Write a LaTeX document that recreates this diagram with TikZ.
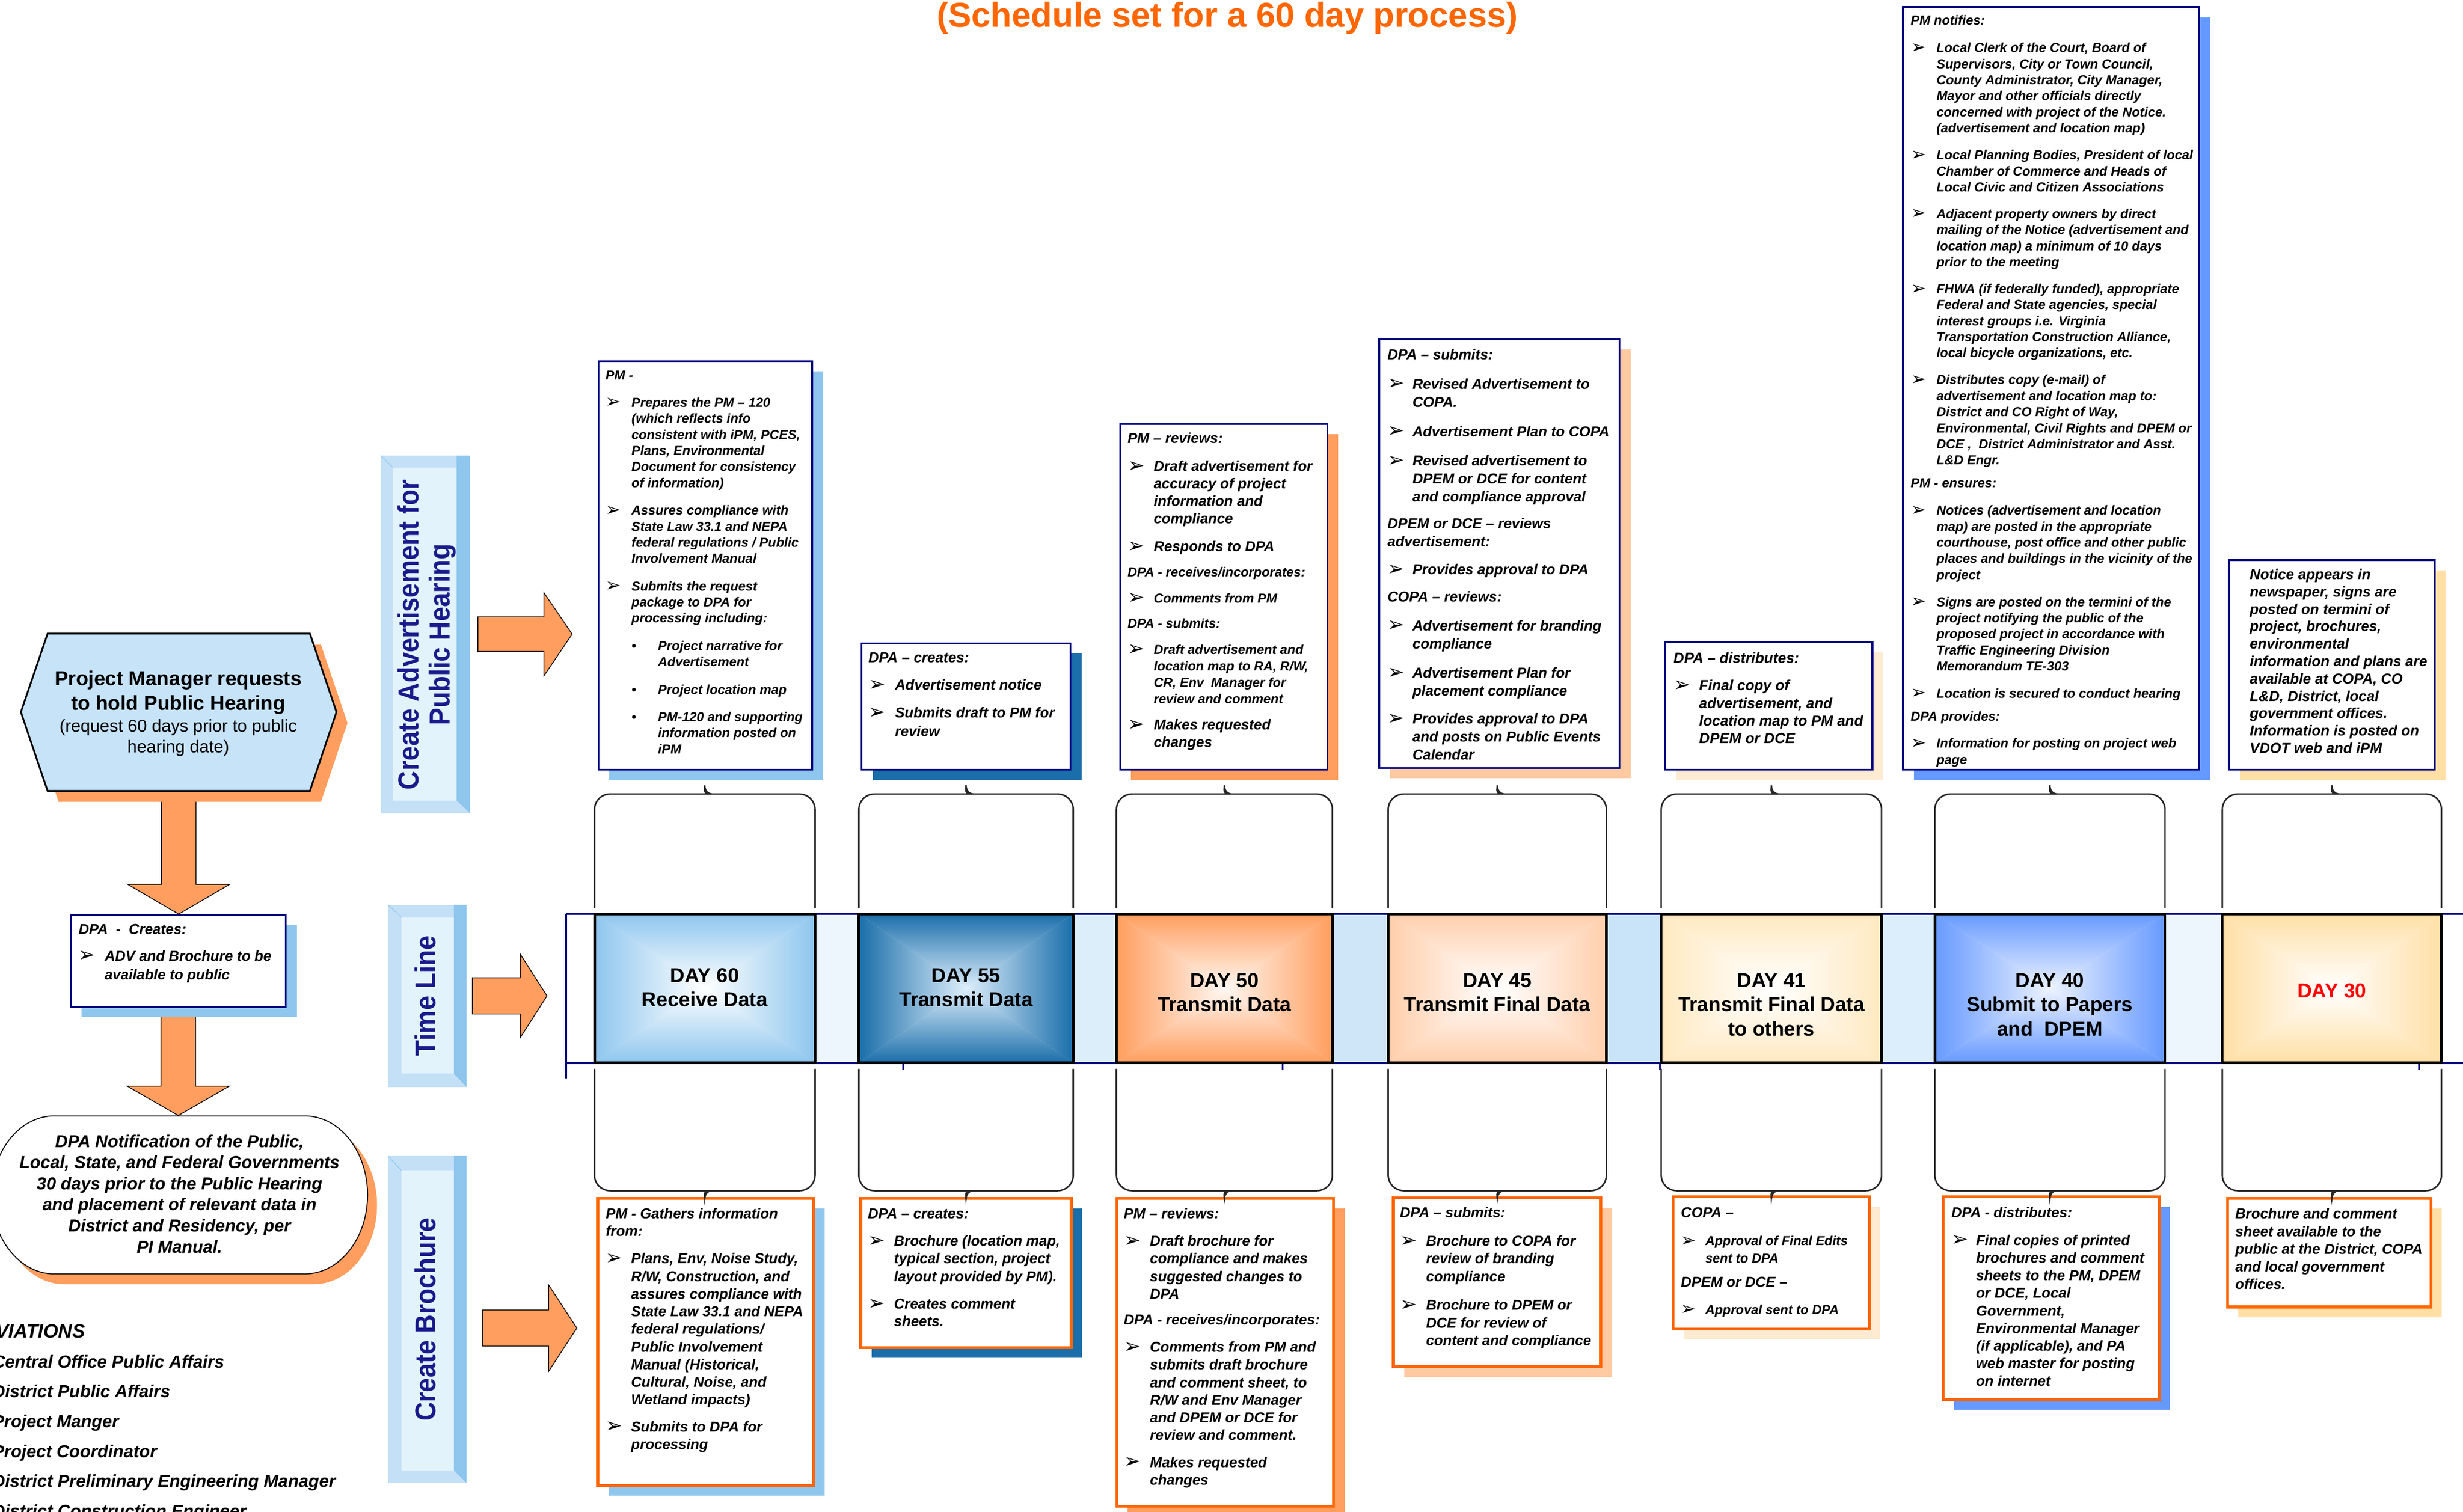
\documentclass[tikz,border=0pt]{standalone}
\usepackage{fontspec}
\setmainfont{Liberation Sans}
\newfontfamily\dejavu{DejaVu Sans}
\newfontfamily\vlfont[FakeStretch=0.9]{Liberation Sans}
\usetikzlibrary{calc,fit,shadows}
\pgfdeclarelayer{back}
\pgfdeclarelayer{bg}
\pgfsetlayers{back,bg,main}
\definecolor{navy}{HTML}{000080}
\definecolor{orng}{HTML}{FF6600}
\definecolor{arrowor}{HTML}{FF9E5E}
\definecolor{shlblue}{HTML}{8EC6EE}
\definecolor{shdblue}{HTML}{1A6EAA}
\definecolor{shorange}{HTML}{FF9E5E}
\definecolor{shpeach}{HTML}{FFC9A2}
\definecolor{shcream}{HTML}{FFEBD2}
\definecolor{shroyal}{HTML}{6699FF}
\definecolor{shgold}{HTML}{FFDFA6}
\definecolor{hexfill}{HTML}{C6E3F8}
\definecolor{vlout}{HTML}{C3E0F7}
\definecolor{vldark}{HTML}{8EC6EE}
\definecolor{vlin}{HTML}{E3F3FC}
\definecolor{vltext}{HTML}{1A1A8C}
\definecolor{gapA}{HTML}{EEF6FD}
\definecolor{gapB}{HTML}{DDEEFB}
\definecolor{gapC}{HTML}{CFE6F8}
\definecolor{gapD}{HTML}{C9E3F8}
\definecolor{gapE}{HTML}{DCEDFB}
\definecolor{dredd}{HTML}{FF0000}
\newlength\ind
\newlength\sind
\newcommand\ab{\makebox[\ind][l]{\raisebox{-0.12ex}{\scalebox{1.4}{\dejavu\mdseries\upshape\char"27A2}}}}
\newcommand\sbul{\makebox[\sind][l]{\textbullet}}
\newcommand\hdr[1]{\multicolumn{2}{@{}l@{}}{#1}}
\newcommand\smallsz{\fontsize{6.8}{8.35}\selectfont}
\newcommand\dayshade[3]{%
 \shade[top color=#2, bottom color=#3] (#1.north west) -- (#1.north east) -- (#1.center) -- cycle;
 \shade[top color=#3, bottom color=#2] (#1.south west) -- (#1.south east) -- (#1.center) -- cycle;
 \shade[left color=#2, right color=#3] (#1.north west) -- (#1.south west) -- (#1.center) -- cycle;
 \shade[left color=#3, right color=#2] (#1.north east) -- (#1.south east) -- (#1.center) -- cycle;
 \draw[daybord] (#1.north west) rectangle (#1.south east);}
\newcommand\topbrace[1]{%
 \draw[brace] ([yshift=3pt]#1.north west) [rounded corners=8pt] -- (#1.north west |- tby) -- ($(#1.north |- tby)+(-5,0)$) [sharp corners] .. controls ($(#1.north |- tby)+(-1.5,0)$) and ($(#1.north |- tby)+(0,-2.5)$) .. (#1.north |- tbt) .. controls ($(#1.north |- tby)+(0,-2.5)$) and ($(#1.north |- tby)+(1.5,0)$) .. ($(#1.north |- tby)+(5,0)$) [rounded corners=8pt] -- (#1.north east |- tby) -- ([yshift=3pt]#1.north east);}
\newcommand\botbrace[1]{%
 \draw[brace] ([yshift=-3pt]#1.south west) [rounded corners=8pt] -- (#1.south west |- bby) -- ($(#1.south |- bby)+(-5,0)$) [sharp corners] .. controls ($(#1.south |- bby)+(-1.5,0)$) and ($(#1.south |- bby)+(0,2.5)$) .. (#1.south |- bbt) .. controls ($(#1.south |- bby)+(0,2.5)$) and ($(#1.south |- bby)+(1.5,0)$) .. ($(#1.south |- bby)+(5,0)$) [rounded corners=8pt] -- (#1.south east |- bby) -- ([yshift=-3pt]#1.south east);}
\newcommand\rarrow[5]{\draw[bigarrow] ($#1+(0,-#4)$) -- ($#1+(#2,-#4)$) -- ($#1+(#2,-#5)$) -- ($#1+(#3,0)$) -- ($#1+(#2,#5)$) -- ($#1+(#2,#4)$) -- ($#1+(0,#4)$) -- cycle;}
\newcommand\darrow[5]{\draw[bigarrow] ($#1+(-#3,0)$) -- ($#1+(#3,0)$) -- ($#2+(#3,-#5)$) -- ($#2+(#4,-#5)$) -- #2 -- ($#2+(-#4,-#5)$) -- ($#2+(-#3,-#5)$) -- cycle;}
\tikzset{
 tbox/.style={draw=navy, line width=0.9pt, fill=white, inner sep=0pt},
 bbox/.style={draw=orng, line width=1.5pt, fill=white, inner sep=0pt},
 shd/.style={drop shadow={shadow xshift=5.7pt, shadow yshift=-5.3pt, fill=#1, opacity=1}},
 daybord/.style={draw=black, line width=1.4pt},
 brace/.style={draw=black!85, line width=0.8pt},
 bigarrow/.style={fill=arrowor, draw=black, line width=0.4pt},
 txt/.style={font=\bfseries\itshape, anchor=base west, inner sep=0pt},
 daytxt/.style={font=\bfseries\fontsize{10.5}{12.7}\selectfont, anchor=base, inner sep=0pt},
 vltxt/.style={font=\vlfont\bfseries\fontsize{15}{18}\selectfont, text=vltext, rotate=90, anchor=base, inner sep=0pt},
}
\begin{document}
\begin{tikzpicture}[x=0.028724cm,y=-0.028724cm]
\useasboundingbox (0,0) rectangle (1568,962.3);
\begin{pgfonlayer}{back}\fill[white] (0,0) rectangle (1568,962.3);\end{pgfonlayer}
\coordinate (tby) at (0,505.5);
\coordinate (tbt) at (0,500);
\coordinate (bby) at (0,758);
\coordinate (bbt) at (0,763);

% title
\node[anchor=base, inner sep=0pt, font=\bfseries\fontsize{18}{21}\selectfont, text=orng] (title) at (781.4,17.4) {(Schedule set for a 60 day process)};

% ---------- left column ----------
\fill[arrowor, shift={(7,7)}] (13.3,453.3) -- (30.3,403.4) -- (197.3,403.4) -- (214.2,453.3) -- (197.3,503.5) -- (30.3,503.5) -- cycle;
\draw[fill=hexfill, line width=0.9pt] (13.3,453.3) -- (30.3,403.4) -- (197.3,403.4) -- (214.2,453.3) -- (197.3,503.5) -- (30.3,503.5) -- cycle;
\node[fit={(13.3,403.4) (214.2,503.5)}, inner sep=0pt] (hex) {};
\node[anchor=base, inner sep=0pt, font=\bfseries\fontsize{10.5}{12.75}\selectfont] (hext1) at (113.5,436.4) {\begin{tabular}[t]{@{}c@{}}Project Manager requests\\to hold Public Hearing\end{tabular}};
\node[anchor=base, inner sep=0pt, font=\fontsize{9}{11}\selectfont] (hext2) at (113.5,465.9) {\begin{tabular}[t]{@{}c@{}}(request 60 days prior to public\\hearing date)\end{tabular}};

\node[tbox, shd=shlblue, fit={(45,582.5) (182,641)}] (l2) {};
\node[txt] (l2x) at (49.8,594.8) {\setlength\ind{13.6pt}\fontsize{7.5}{9.7}\selectfont
\begin{tabular}[t]{@{}l@{}l@{}}
\hdr{DPA\ \ -\ \ Creates:}\\[4.1pt]
\ab & ADV and Brochure to be\\
 & available to public
\end{tabular}};

\fill[arrowor, shift={(6,6.5)}] (194,710.4) .. controls (216.1,710.4) and (234,732.9) .. (234,760.7) .. controls (234,788.5) and (216.1,811) .. (194,811) -- (34.6,811) .. controls (12.5,811) and (-5.4,788.5) .. (-5.4,760.7) .. controls (-5.4,732.9) and (12.5,710.4) .. (34.6,710.4) -- cycle;
\draw[fill=white, line width=0.5pt] (194,710.4) .. controls (216.1,710.4) and (234,732.9) .. (234,760.7) .. controls (234,788.5) and (216.1,811) .. (194,811) -- (34.6,811) .. controls (12.5,811) and (-5.4,788.5) .. (-5.4,760.7) .. controls (-5.4,732.9) and (12.5,710.4) .. (34.6,710.4) -- cycle;
\node[fit={(-5.4,710.4) (234,811)}, inner sep=0pt] (ell) {};
\node[anchor=base, inner sep=0pt, font=\bfseries\itshape\fontsize{9}{10.96}\selectfont] (ellx) at (114.3,730.5) {\begin{tabular}[t]{@{}c@{}}DPA Notification of the Public,\\Local, State, and Federal Governments\\30 days prior to the Public Hearing\\and placement of relevant data in\\District and Residency, per\\PI Manual.\end{tabular}};

\begin{pgfonlayer}{bg}
\darrow{(hex.south)}{(hex.south |- l2.north)}{11}{32.5}{19}
\darrow{(l2.south)}{(l2.south |- ell.north)}{11}{32.5}{18.7}
\end{pgfonlayer}

\node[anchor=base west, inner sep=0pt, font=\bfseries\itshape\fontsize{10}{12}\selectfont] (abh) at (-3,851.7) {VIATIONS};
\node[anchor=base west, inner sep=0pt, font=\bfseries\itshape\fontsize{9.1}{15.53}\selectfont] (abl) at (-5,870.8) {\begin{tabular}[t]{@{}l@{}}Central Office Public Affairs\\District Public Affairs\\Project Manger\\Project Coordinator\\District Preliminary Engineering Manager\\District Construction Engineer\end{tabular}};

% ---------- vertical labels ----------
\node[fit={(242.5,290) (299,517.5)}, inner sep=0pt, fill=vlout] (vl1) {};
\fill[vldark] (290.7,290) -- (299,290) -- (299,517.5) -- (290.7,509.5) -- cycle;
\fill[vlin] (250,297.5) rectangle (290.7,509.5);
\draw[vldark, line width=0.3pt] (242.5,290) -- (250,297.5);
\node[vltxt] (vl1a) at (266.6,404) {Create Advertisement for};
\node[vltxt] (vl1b) at (286.2,404) {Public Hearing};

\node[fit={(247,576) (297,692)}, inner sep=0pt, fill=vlout] (vl2) {};
\fill[vldark] (289,576) -- (297,576) -- (297,692) -- (289,683.5) -- cycle;
\fill[vlin] (255.5,584) rectangle (289,683.5);
\draw[vldark, line width=0.3pt] (247,576) -- (255.5,584);
\node[vltxt] (vl2a) at (277.4,634) {Time Line};

\node[fit={(247,736) (297,944)}, inner sep=0pt, fill=vlout] (vl3) {};
\fill[vldark] (289,736) -- (297,736) -- (297,944) -- (289,936) -- cycle;
\fill[vlin] (255.5,745) rectangle (289,936);
\draw[vldark, line width=0.3pt] (247,736) -- (255.5,745);
\node[vltxt] (vl3a) at (277.4,840) {Create Brochure};

\coordinate (ra1) at ($(vl1.east)+(5,0)$);
\coordinate (ra2) at ($(vl2.east)+(3.5,0)$);
\coordinate (ra3) at ($(vl3.east)+(10,5.5)$);
\rarrow{(ra1)}{42}{60}{11}{26.5}
\rarrow{(ra2)}{30.5}{47.5}{11.5}{26.5}
\rarrow{(ra3)}{42}{60}{11.5}{27.5}

% ---------- time line band ----------
\node[fit={(360.5,582) (1568,676.5)}, inner sep=0pt] (tl) {};
\fill[gapA] (518.6,582) rectangle (547,676.5);
\fill[gapB] (683,582) rectangle (711,676.5);
\fill[gapC] (848,582) rectangle (884,676.5);
\fill[gapD] (1022.4,582) rectangle (1057.8,676.5);
\fill[gapE] (1197.6,582) rectangle (1232,676.5);
\fill[gapA] (1378,582) rectangle (1415,676.5);
\draw[navy, line width=1.2pt] (tl.north west) -- (tl.north east);
\draw[navy, line width=1.2pt] (tl.south west) -- (tl.south east);
\draw[navy, line width=1pt] (tl.north west) -- ++(0,104.6);
\foreach \tx in {575,816.5,1056.7,1540} \draw[navy, line width=1pt] (\tx,676.5) -- ++(0,4.5);

\node[fit={(378.7,582) (518.6,676.5)}, inner sep=0pt] (d60) {};
\node[fit={(547,582) (683,676.5)}, inner sep=0pt] (d55) {};
\node[fit={(711,582) (848,676.5)}, inner sep=0pt] (d50) {};
\node[fit={(884,582) (1022.4,676.5)}, inner sep=0pt] (d45) {};
\node[fit={(1057.8,582) (1197.6,676.5)}, inner sep=0pt] (d41) {};
\node[fit={(1232,582) (1378,676.5)}, inner sep=0pt] (d40) {};
\node[fit={(1415,582) (1554,676.5)}, inner sep=0pt] (d30) {};
\dayshade{d60}{shlblue}{white}
\dayshade{d55}{shdblue}{gapB}
\dayshade{d50}{arrowor}{white!92!arrowor}
\dayshade{d45}{white!20!shpeach!90!arrowor}{white}
\dayshade{d41}{white!30!shgold}{white}
\dayshade{d40}{shroyal}{white!88!shroyal}
\dayshade{d30}{shgold}{white}
\node[daytxt] (d60t) at (448.65,625.3) {\begin{tabular}[t]{@{}c@{}}DAY 60\\Receive Data\end{tabular}};
\node[daytxt] (d55t) at (615,625.3) {\begin{tabular}[t]{@{}c@{}}DAY 55\\Transmit Data\end{tabular}};
\node[daytxt] (d50t) at (779.5,628.4) {\begin{tabular}[t]{@{}c@{}}DAY 50\\Transmit Data\end{tabular}};
\node[daytxt] (d45t) at (953.2,628.4) {\begin{tabular}[t]{@{}c@{}}DAY 45\\Transmit Final Data\end{tabular}};
\node[daytxt] (d41t) at (1127.7,628.4) {\begin{tabular}[t]{@{}c@{}}DAY 41\\Transmit Final Data\\to others\end{tabular}};
\node[daytxt] (d40t) at (1305,628.4) {\begin{tabular}[t]{@{}c@{}}DAY 40\\Submit to Papers\\and\ \ DPEM\end{tabular}};
\node[daytxt, text=dredd] (d30t) at (1484.5,635.2) {DAY 30};

% ---------- top boxes ----------
\node[tbox, shd=shlblue, fit={(381,230) (517,490)}] (t1) {};
\node[tbox, shd=shdblue, fit={(548.5,409.5) (681.5,490)}] (t2) {};
\node[tbox, shd=shorange, fit={(713,270) (845,490)}] (t3) {};
\node[tbox, shd=shpeach, fit={(878,216) (1031,489)}] (t4) {};
\node[tbox, shd=shcream, fit={(1060,409) (1192,490)}] (t5) {};
\node[tbox, shd=shroyal, fit={(1211.5,4.5) (1400,490)}] (t6) {};
\node[tbox, shd=shgold, fit={(1419,356.5) (1550,490)}] (t7) {};

\node[txt] (t1x) at (385.3,241.6) {\setlength\ind{13.5pt}\setlength\sind{13.8pt}\fontsize{6.8}{8.35}\selectfont
\begin{tabular}[t]{@{}l@{}l@{}}
\hdr{PM -}\\[6pt]
\ab & Prepares the PM – 120\\
 & (which reflects info\\
 & consistent with iPM, PCES,\\
 & Plans, Environmental\\
 & Document for consistency\\
 & of information)\\[6pt]
\ab & Assures compliance with\\
 & State Law 33.1 and NEPA\\
 & federal regulations / Public\\
 & Involvement Manual\\[6pt]
\ab & Submits the request\\
 & package to DPA for\\
 & processing including:\\[6pt]
 & \sbul Project narrative for\\
 & \hspace{\sind}Advertisement\\[6pt]
 & \sbul Project location map\\[6pt]
 & \sbul PM-120 and supporting\\
 & \hspace{\sind}information posted on\\
 & \hspace{\sind}iPM
\end{tabular}};

\node[txt] (t2x) at (552.6,421.9) {\setlength\ind{13.9pt}\fontsize{7.5}{9.7}\selectfont
\begin{tabular}[t]{@{}l@{}l@{}}
\hdr{DPA – creates:}\\[4.5pt]
\ab & Advertisement notice\\[4.8pt]
\ab & Submits draft to PM for\\
 & review
\end{tabular}};

\node[txt] (t3x) at (717.6,282.3) {\setlength\ind{13.6pt}\fontsize{7.5}{9.15}\selectfont
\begin{tabular}[t]{@{}l@{}l@{}}
\hdr{PM – reviews:}\\[5.2pt]
\ab & Draft advertisement for\\
 & accuracy of project\\
 & information and\\
 & compliance\\[5.3pt]
\ab & Responds to DPA\\[3.8pt]
\hdr{\smallsz DPA - receives/incorporates:}\\[4.6pt]
\ab & \smallsz Comments from PM\\[3.8pt]
\hdr{\smallsz DPA - submits:}\\[4.7pt]
\ab & \smallsz Draft advertisement and\\[-0.65pt]
 & \smallsz location map to RA, R/W,\\[-0.65pt]
 & \smallsz CR, Env\ \ Manager for\\[-0.65pt]
 & \smallsz review and comment\\[4.5pt]
\ab & Makes requested\\
 & changes
\end{tabular}};

\node[txt] (t4x) at (883.1,229) {\setlength\ind{13pt}\fontsize{7.5}{9.4}\selectfont
\begin{tabular}[t]{@{}l@{}l@{}}
\hdr{DPA – submits:}\\[5.8pt]
\ab & Revised Advertisement to\\
 & COPA.\\[5.9pt]
\ab & Advertisement Plan to COPA\\[5.8pt]
\ab & Revised advertisement to\\
 & DPEM or DCE for content\\
 & and compliance approval\\[4.5pt]
\hdr{DPEM or DCE – reviews}\\
\hdr{advertisement:}\\[5.1pt]
\ab & Provides approval to DPA\\[4.8pt]
\hdr{COPA – reviews:}\\[5.6pt]
\ab & Advertisement for branding\\
 & compliance\\[5.8pt]
\ab & Advertisement Plan for\\
 & placement compliance\\[5.1pt]
\ab & Provides approval to DPA\\
 & and posts on Public Events\\
 & Calendar
\end{tabular}};

\node[txt] (t5x) at (1065.2,422.2) {\setlength\ind{13.3pt}\fontsize{7.6}{9.15}\selectfont
\begin{tabular}[t]{@{}l@{}l@{}}
\hdr{DPA – distributes:}\\[5.1pt]
\ab & Final copy of\\
 & advertisement, and\\
 & location map to PM and\\
 & DPEM or DCE
\end{tabular}};

\node[txt] (t6x) at (1216.2,15.8) {\setlength\ind{13.4pt}\fontsize{6.8}{8.35}\selectfont
\begin{tabular}[t]{@{}l@{}l@{}}
\hdr{PM notifies:}\\[6pt]
\ab & Local Clerk of the Court, Board of\\
 & Supervisors, City or Town Council,\\
 & County Administrator, City Manager,\\
 & Mayor and other officials directly\\
 & concerned with project of the Notice.\\
 & (advertisement and location map)\\[5.6pt]
\ab & Local Planning Bodies, President of local\\
 & Chamber of Commerce and Heads of\\
 & Local Civic and Citizen Associations\\[5.6pt]
\ab & Adjacent property owners by direct\\
 & mailing of the Notice (advertisement and\\
 & location map) a minimum of 10 days\\
 & prior to the meeting\\[5.6pt]
\ab & FHWA (if federally funded), appropriate\\
 & Federal and State agencies, special\\
 & interest groups i.e. Virginia\\
 & Transportation Construction Alliance,\\
 & local bicycle organizations, etc.\\[5.6pt]
\ab & Distributes copy (e-mail) of\\
 & advertisement and location map to:\\
 & District and CO Right of Way,\\
 & Environmental, Civil Rights and DPEM or\\
 & DCE ,\ \ District Administrator and Asst.\\
 & L\&D Engr.\\[3.5pt]
\hdr{PM - ensures:}\\[6pt]
\ab & Notices (advertisement and location\\
 & map) are posted in the appropriate\\
 & courthouse, post office and other public\\
 & places and buildings in the vicinity of the\\
 & project\\[5.8pt]
\ab & Signs are posted on the termini of the\\
 & project notifying the public of the\\
 & proposed project in accordance with\\
 & Traffic Engineering Division\\
 & Memorandum TE-303\\[5.8pt]
\ab & Location is secured to conduct hearing\\[3.8pt]
\hdr{DPA provides:}\\[5.6pt]
\ab & Information for posting on project web\\
 & page
\end{tabular}};

\node[txt] (t7x) at (1432,368.8) {\fontsize{7.55}{9.05}\selectfont
\begin{tabular}[t]{@{}l@{}}
Notice appears in\\
newspaper, signs are\\
posted on termini of\\
project, brochures,\\
environmental\\
information and plans are\\
available at COPA, CO\\
L\&D, District, local\\
government offices.\\
Information is posted on\\
VDOT web and iPM
\end{tabular}};

% ---------- bottom boxes ----------
\node[bbox, shd=shlblue, fit={(380.5,763) (518,945.6)}] (b1) {};
\node[bbox, shd=shdblue, fit={(548,763) (682,858)}] (b2) {};
\node[bbox, shd=shorange, fit={(711,763) (849,959)}] (b3) {};
\node[bbox, shd=shpeach, fit={(887,762.5) (1019,870)}] (b4) {};
\node[bbox, shd=shcream, fit={(1065,762) (1190,846)}] (b5) {};
\node[bbox, shd=shroyal, fit={(1237,762) (1374.5,891)}] (b6) {};
\node[bbox, shd=shgold, fit={(1418,763) (1547.5,832)}] (b7) {};

\node[txt] (b1x) at (385.4,775.8) {\setlength\ind{13.2pt}\fontsize{7.5}{9.17}\selectfont
\begin{tabular}[t]{@{}l@{}l@{}}
\hdr{PM - Gathers information}\\
\hdr{from:}\\[5.1pt]
\ab & Plans, Env, Noise Study,\\
 & R/W, Construction, and\\
 & assures compliance with\\
 & State Law 33.1 and NEPA\\
 & federal regulations/\\
 & Public Involvement\\
 & Manual (Historical,\\
 & Cultural, Noise, and\\
 & Wetland impacts)\\[4.9pt]
\ab & Submits to DPA for\\
 & processing
\end{tabular}};

\node[txt] (b2x) at (552.3,775.8) {\setlength\ind{13.6pt}\fontsize{7.5}{9.17}\selectfont
\begin{tabular}[t]{@{}l@{}l@{}}
\hdr{DPA – creates:}\\[5.1pt]
\ab & Brochure (location map,\\
 & typical section, project\\
 & layout provided by PM).\\[5.2pt]
\ab & Creates comment\\
 & sheets.
\end{tabular}};

\node[txt] (b3x) at (715.2,775.8) {\setlength\ind{13.6pt}\fontsize{7.5}{9.17}\selectfont
\begin{tabular}[t]{@{}l@{}l@{}}
\hdr{PM – reviews:}\\[5.1pt]
\ab & Draft brochure for\\
 & compliance and makes\\
 & suggested changes to\\
 & DPA\\[4.2pt]
\hdr{DPA - receives/incorporates:}\\[5.1pt]
\ab & Comments from PM and\\
 & submits draft brochure\\
 & and comment sheet, to\\
 & R/W and Env Manager\\
 & and DPEM or DCE for\\
 & review and comment.\\[4.9pt]
\ab & Makes requested\\
 & changes
\end{tabular}};

\node[txt] (b4x) at (891,775.2) {\setlength\ind{13.6pt}\fontsize{7.5}{9.17}\selectfont
\begin{tabular}[t]{@{}l@{}l@{}}
\hdr{DPA – submits:}\\[5.6pt]
\ab & Brochure to COPA for\\
 & review of branding\\
 & compliance\\[5.8pt]
\ab & Brochure to DPEM or\\
 & DCE for review of\\
 & content and compliance
\end{tabular}};

\node[txt] (b5x) at (1069.9,775) {\setlength\ind{12.7pt}\fontsize{6.8}{9}\selectfont
\begin{tabular}[t]{@{}l@{}l@{}}
\hdr{\fontsize{7.5}{9}\selectfont COPA –}\\[5.7pt]
\ab & Approval of Final Edits\\
 & sent to DPA\\[3.4pt]
\hdr{\fontsize{7.5}{9}\selectfont DPEM or DCE –}\\[5.2pt]
\ab & Approval sent to DPA
\end{tabular}};

\node[txt] (b6x) at (1242.1,775) {\setlength\ind{12.8pt}\fontsize{7.5}{9.17}\selectfont
\begin{tabular}[t]{@{}l@{}l@{}}
\hdr{DPA - distributes:}\\[5.3pt]
\ab & Final copies of printed\\
 & brochures and comment\\
 & sheets to the PM, DPEM\\
 & or DCE, Local\\
 & Government,\\
 & Environmental Manager\\
 & (if applicable), and PA\\
 & web master for posting\\
 & on internet
\end{tabular}};

\node[txt] (b7x) at (1422.8,775.9) {\fontsize{7.5}{9.17}\selectfont
\begin{tabular}[t]{@{}l@{}}
Brochure and comment\\
sheet available to the\\
public at the District, COPA\\
and local government\\
offices.
\end{tabular}};

% ---------- braces (connectors day -> boxes) ----------
\foreach \d in {d60,d55,d50,d45,d41,d40,d30} {\topbrace{\d}\botbrace{\d}}
\end{tikzpicture}
\end{document}
